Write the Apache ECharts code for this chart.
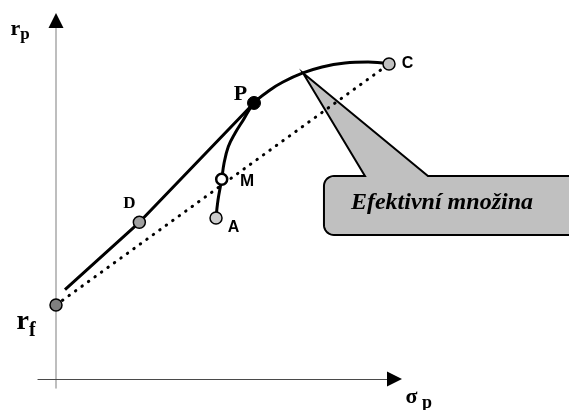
<!DOCTYPE html>
<html>
<head>
<meta charset="utf-8">
<script src="https://cdn.jsdelivr.net/npm/echarts@6/dist/echarts.min.js"></script>
<style>
  html, body { margin: 0; padding: 0; background: #fff; }
  #main { width: 569px; height: 410px; }
</style>
</head>
<body>
<div id="main"></div>
<script>
// body v rovině (sigma_p, r_p)
var pointNames = ['rf', 'D', 'A', 'M', 'P', 'C'];
var pointSigma = [0, 9.26, 17.78, 18.41, 22.0, 37.0];
var pointReturn = [8.22, 17.41, 17.89, 22.19, 30.67, 35.0];

// hranice množiny A -> M -> P -> C
var frontierSigma = [17.78, 18.0, 18.41, 18.67, 19.14, 19.89, 20.81, 22.0, 23.78, 25.22, 27.44, 29.56, 32.11, 34.67, 37.0];
var frontierReturn = [17.89, 19.89, 22.19, 23.97, 25.81, 27.3, 28.78, 30.67, 32.11, 33.0, 34.0, 34.67, 35.11, 35.22, 35.0];

// tečna z rf přes D do P
var tangentSigma = [1.0, 9.26, 22.0];
var tangentReturn = [9.94, 17.41, 30.67];

// tečkovaná spojnice rf - C
var dottedSigma = [0, 37.0];
var dottedReturn = [8.22, 35.0];

// bublina s popisem
var calloutSigma = [27.44];
var calloutReturn = [34.0];
var calloutText = 'Efektivní množina';

function zip(a, b) {
  return a.map(function (v, i) { return [v, b[i]]; });
}

var serif = '"Liberation Serif", "Times New Roman", serif';
var sans = '"Liberation Sans", Arial, sans-serif';

var pointStyle = {
  rf: { size: 12, fill: '#808080', border: 1.5, font: serif, offset: [-30, 22] },
  D: { size: 12, fill: '#a0a0a0', border: 1.5, font: serif, fontSize: 17, offset: [-10, -18.5] },
  A: { size: 12, fill: '#cccccc', border: 1.5, font: sans, fontSize: 16, offset: [17.5, 9.5] },
  M: { size: 11, fill: '#ffffff', border: 2.5, font: sans, fontSize: 17, offset: [25.3, 1.7] },
  P: { size: 13, fill: '#000000', border: 1, font: serif, fontSize: 22, offset: [-13.5, -8.5] },
  C: { size: 12, fill: '#c0c0c0', border: 1.5, font: sans, fontSize: 16, offset: [18.5, 0] }
};

var myChart = echarts.init(document.getElementById('main'));

var xMin = -2, xMax = 37.61, yMin = -1, yMax = 39.83;

function hiddenParts(o) {
  o.axisTick = { show: false };
  o.axisLabel = { show: false };
  o.splitLine = { show: false };
  return o;
}

var option = {
  animation: false,
  backgroundColor: '#fff',
  grid: {
    left: 38,
    right: 174.5,
    top: 20.5,
    bottom: 22,
    containLabel: false,
    outerBoundsMode: 'none'
  },
  xAxis: [
    hiddenParts({
      type: 'value', min: xMin, max: xMax,
      axisLine: { onZero: true, lineStyle: { color: '#4a4a4a', width: 1.2 } },
      name: '{a|σ}{b| p}',
      nameLocation: 'end',
      nameGap: 11,
      nameMoveOverlap: false,
      nameTextStyle: {
        padding: [44, 0, 0, 0],
        rich: {
          a: { fontFamily: serif, fontWeight: 'bold', fontSize: 22, lineHeight: 22, color: '#000', verticalAlign: 'bottom', padding: [0, 0, 4, 0] },
          b: { fontFamily: serif, fontWeight: 'bold', fontSize: 18, lineHeight: 18, color: '#000', verticalAlign: 'bottom' }
        }
      }
    }),
    hiddenParts({
      type: 'value', min: xMin, max: xMax,
      axisLine: { onZero: true, symbol: ['none', 'triangle'], symbolSize: [15, 15], lineStyle: { color: '#000', opacity: 0 } }
    })
  ],
  yAxis: [
    hiddenParts({
      type: 'value', min: yMin, max: yMax,
      axisLine: { onZero: true, lineStyle: { color: '#a8a8a8', width: 1.5 } },
      name: '{a|r}{b|p}',
      nameLocation: 'end',
      nameGap: -23,
      nameMoveOverlap: false,
      nameTextStyle: {
        padding: [0, 72, 0, 0],
        rich: {
          a: { fontFamily: serif, fontWeight: 'bold', fontSize: 22, lineHeight: 22, color: '#000', verticalAlign: 'bottom', padding: [0, 0, 3, 0] },
          b: { fontFamily: serif, fontWeight: 'bold', fontSize: 17, lineHeight: 17, color: '#000', verticalAlign: 'bottom' }
        }
      }
    }),
    hiddenParts({
      type: 'value', min: yMin, max: yMax,
      axisLine: { onZero: true, symbol: ['none', 'triangle'], symbolSize: [15, 15], lineStyle: { color: '#000', opacity: 0 } }
    })
  ],
  series: [
    {
      type: 'custom',
      z: 1,
      clip: false,
      silent: true,
      data: zip(calloutSigma, calloutReturn),
      renderItem: function (params, api) {
        var p = api.coord([api.value(0), api.value(1)]);
        var x0 = p[0], y0 = p[1];
        var L = x0 + 21, T = y0 + 103, B = y0 + 162, R = x0 + 290, rad = 10;
        var pts = [[x0, y0], [x0 + 125, T], [R, T], [R, B]];
        var a;
        for (a = 90; a <= 180; a += 10) {
          pts.push([L + rad + rad * Math.cos(a * Math.PI / 180), B - rad + rad * Math.sin(a * Math.PI / 180)]);
        }
        for (a = 180; a <= 270; a += 10) {
          pts.push([L + rad + rad * Math.cos(a * Math.PI / 180), T + rad + rad * Math.sin(a * Math.PI / 180)]);
        }
        pts.push([x0 + 62, T]);
        return {
          type: 'group',
          children: [
            {
              type: 'polygon',
              shape: { points: pts },
              style: { fill: '#c0c0c0', stroke: '#000', lineWidth: 2 }
            },
            {
              type: 'text',
              x: x0 + 139,
              y: y0 + 130,
              style: {
                text: calloutText,
                font: 'italic bold 24px ' + serif,
                fill: '#000',
                align: 'center',
                verticalAlign: 'middle'
              }
            }
          ]
        };
      }
    },
    {
      type: 'line',
      z: 2,
      silent: true,
      symbol: 'none',
      data: zip(dottedSigma, dottedReturn),
      lineStyle: { color: '#000', width: 3, type: [0.5, 7.5], cap: 'round' }
    },
    {
      type: 'line',
      z: 3,
      silent: true,
      symbol: 'none',
      data: zip(tangentSigma, tangentReturn),
      lineStyle: { color: '#000', width: 3 }
    },
    {
      type: 'line',
      z: 3,
      silent: true,
      symbol: 'none',
      smooth: 0.4,
      data: zip(frontierSigma, frontierReturn),
      lineStyle: { color: '#000', width: 3 }
    },
    {
      type: 'scatter',
      z: 5,
      silent: true,
      data: pointNames.map(function (n, i) {
        var s = pointStyle[n];
        var label;
        if (n === 'rf') {
          label = {
            show: true,
            position: 'inside',
            offset: s.offset,
            formatter: '{a|r}{b|f}',
            rich: {
              a: { fontFamily: serif, fontWeight: 'bold', fontSize: 28, lineHeight: 28, color: '#000', verticalAlign: 'bottom', padding: [0, 0, 5, 0] },
              b: { fontFamily: serif, fontWeight: 'bold', fontSize: 20, lineHeight: 20, color: '#000', verticalAlign: 'bottom' }
            }
          };
        } else {
          label = {
            show: true,
            position: 'inside',
            offset: s.offset,
            formatter: n,
            fontFamily: s.font,
            fontWeight: 'bold',
            fontSize: s.fontSize,
            color: '#000'
          };
        }
        return {
          value: [pointSigma[i], pointReturn[i]],
          symbolSize: s.size,
          itemStyle: { color: s.fill, borderColor: '#000', borderWidth: s.border, opacity: 1 },
          label: label
        };
      })
    }
  ]
};

myChart.setOption(option);
</script>
</body>
</html>
